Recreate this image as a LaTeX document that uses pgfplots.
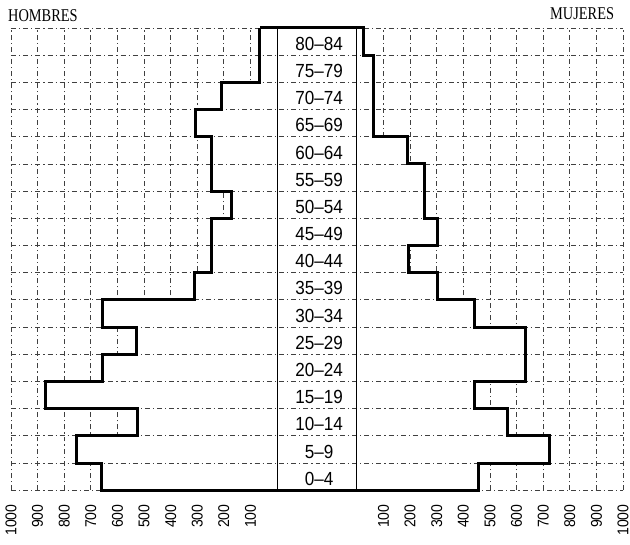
\documentclass[border=0pt]{standalone}
\usepackage{fontspec}
\setmainfont{Liberation Sans}[FakeStretch=0.9]
\newfontfamily\rotulo{Liberation Serif}[FakeStretch=0.8]
\usepackage{pgfplots}
\usepackage{pgfplotstable}
\pgfplotsset{compat=1.18}

% contorno escalonado de la piramide (const plot mark right)
% lado=-1 hombres (y = fila superior del grupo), lado=1 mujeres (y = fila inferior)
\pgfplotstableread{
y  valor lado
17  66  -1
16  66  -1
15 208  -1
14 306  -1
13 246  -1
12 246  -1
11 171  -1
10 246  -1
9  246  -1
8  310  -1
7  655  -1
6  527  -1
5  655  -1
4  872  -1
3  523  -1
2  752  -1
1  658  -1
0  456   1
1  722   1
2  565   1
3  441   1
4  632   1
5  632   1
6  441   1
7  302   1
8  193   1
9  302   1
10 253   1
11 253   1
12 190   1
13  62   1
14  62   1
15  62   1
16  24   1
17  66  -1
}\contorno

\pgfplotstableread{
fila edad
0  0--4
1  5--9
2  10--14
3  15--19
4  20--24
5  25--29
6  30--34
7  35--39
8  40--44
9  45--49
10 50--54
11 55--59
12 60--64
13 65--69
14 70--74
15 75--79
16 80--84
}\edades

\begin{document}
\begin{tikzpicture}
\useasboundingbox (0,0) rectangle (315.5pt,272.5pt);

\pgfplotsset{piramide/.style={
  at={(5.5pt,27pt)}, anchor=south west, scale only axis,
  width=306.5pt, height=231.5pt,
  xmin=-1150, xmax=1150, ymin=0, ymax=17,
  axis line style={draw=none}, major tick length=0pt, clip=false,
  grid style={black!75, line width=0.4pt,
    dash pattern=on 2.5pt off 1.5pt on 0.6pt off 1.5pt},
}}

% fondo: rejilla vertical y relleno blanco de las barras
\begin{axis}[piramide,
  xtick={-1150,-1050,...,-250,250,350,...,1150},
  xticklabels={1000,900,800,700,600,500,400,300,200,100,
               100,200,300,400,500,600,700,800,900,1000},
  xticklabel style={yshift=-7pt, rotate=90, anchor=east, inner sep=0pt,
    font=\fontsize{7.8}{8}\selectfont},
  ytick=\empty,
  xmajorgrids
]
\addplot [fill=white, draw=none, const plot mark right]
  table [x expr=\thisrow{lado}*(150+\thisrow{valor}), y=y] {\contorno};
\end{axis}

% frente: rejilla horizontal, columna central, contorno y grupos de edad
\begin{axis}[piramide,
  xtick=\empty,
  ytick={0,...,17}, yticklabels={},
  ymajorgrids,
  extra x ticks={-150,150}, extra x tick labels={},
  extra x tick style={grid=major,
    major grid style={solid, black, line width=0.5pt}}
]
\addplot [black, line width=1.5pt, line join=miter, const plot mark right]
  table [x expr=\thisrow{lado}*(150+\thisrow{valor}), y=y] {\contorno};
\addplot [only marks, mark=none, nodes near coords,
  point meta=explicit symbolic,
  nodes near coords style={anchor=center, font=\fontsize{9.5}{10}\selectfont}]
  table [x expr=8, y expr=\thisrow{fila}+0.42, meta=edad] {\edades};
\end{axis}

\node [font=\rotulo\fontsize{9}{9}\selectfont] at (21.5pt,264.5pt) {HOMBRES};
\node [font=\rotulo\fontsize{9}{9}\selectfont] at (291.5pt,265.5pt) {MUJERES};
\end{tikzpicture}
\end{document}
